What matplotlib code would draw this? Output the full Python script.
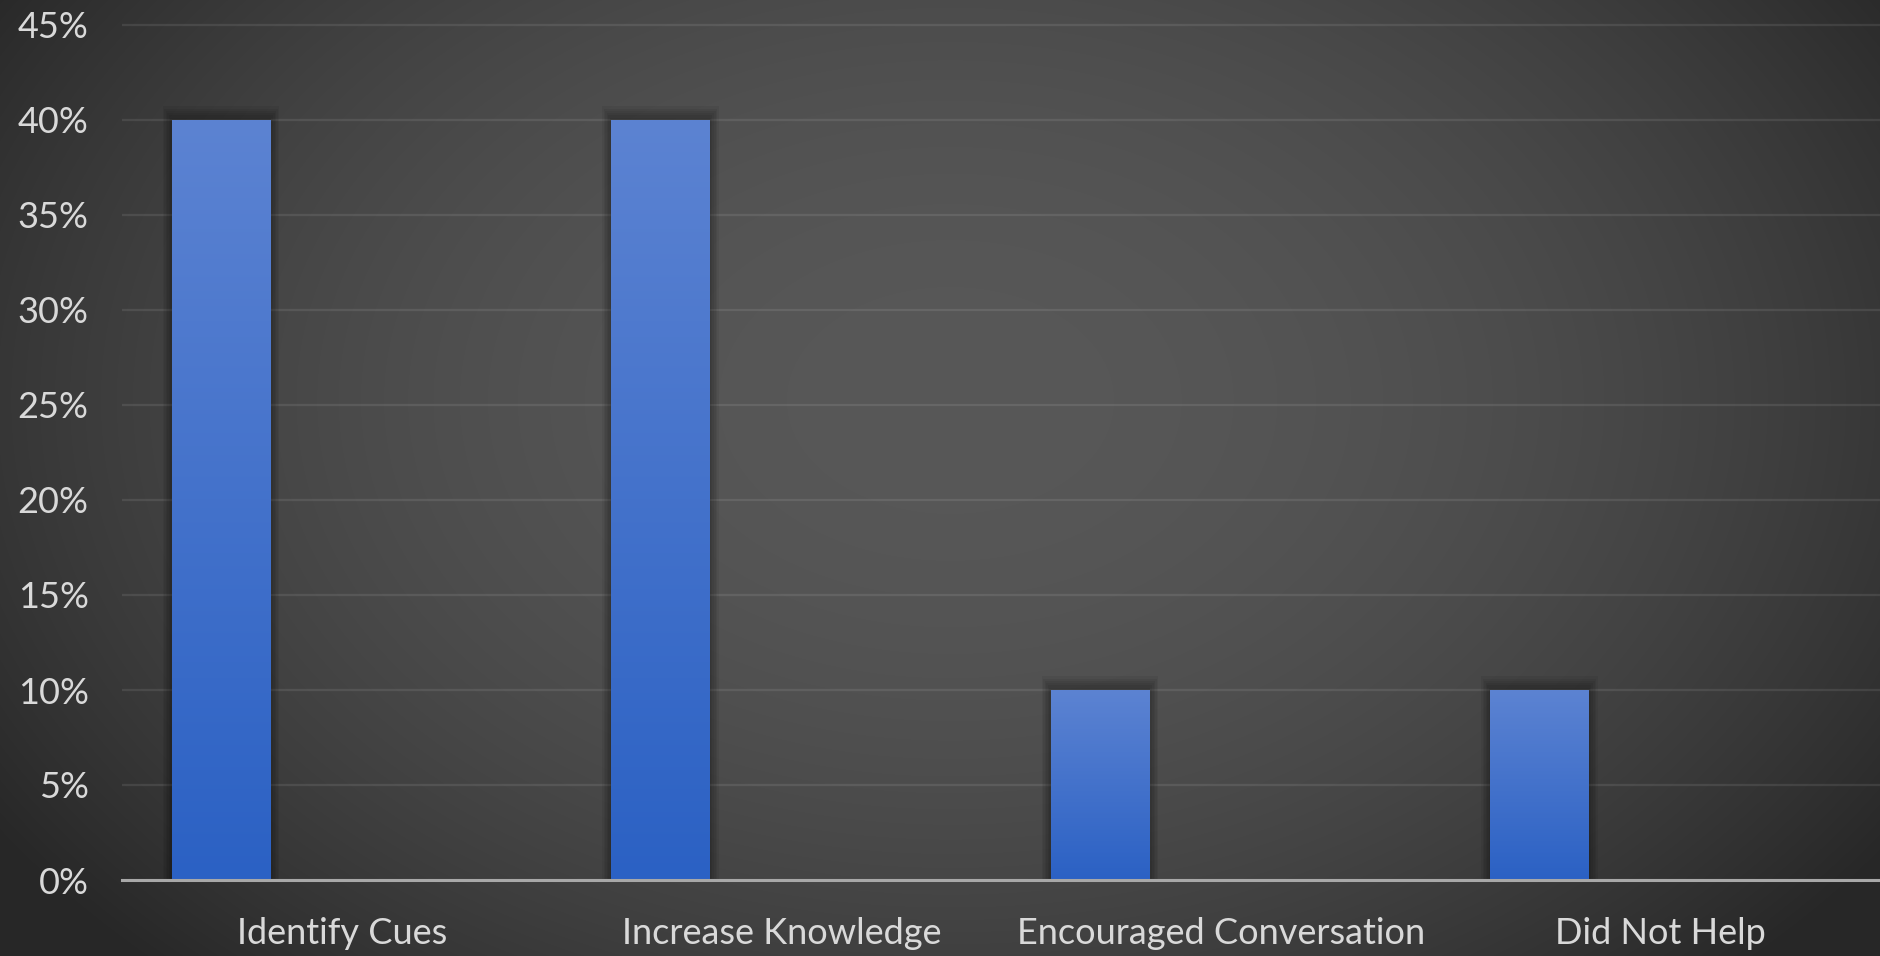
import numpy as np
import matplotlib
matplotlib.use("Agg")
import matplotlib.pyplot as plt
from matplotlib.patches import Rectangle
from matplotlib.ticker import MultipleLocator, PercentFormatter

categories = ["Identify Cues", "Increase Knowledge", "Encouraged Conversation", "Did Not Help"]
shares = [0.40, 0.40, 0.10, 0.10]

plt.rcParams["font.family"] = ["Lato", "DejaVu Sans"]

W, H = 1880, 956
fig = plt.figure(figsize=(W / 100, H / 100), dpi=100)

# Dark radial backdrop, lighter toward the middle
bg = fig.add_axes([0, 0, 1, 1], zorder=-10)
yy, xx = np.mgrid[0:H, 0:W]
r2 = ((xx - 950) / (W * 0.55)) ** 2 + ((yy - 400) / (H * 0.75)) ** 2
lum = np.clip(88 - 40 * r2, 40, 255) / 255.0
bg.imshow(np.dstack([lum, lum, lum]), extent=[0, 1, 0, 1], aspect="auto", origin="upper")
bg.axis("off")

ax = fig.add_axes([122 / W, 1 - 880 / H, 1 - 122 / W, 874 / H])
ax.set_facecolor("none")
ax.set_ylim(0, 0.46)
ax.set_xlim(-0.5, len(categories) - 0.5)

x = np.arange(len(categories))
offset, width = -0.275, 0.223
bars = ax.bar(x + offset, shares, width=width, color="none", zorder=3)

# Soft shadow around each column
for b in bars:
    x0, w, h = b.get_x(), b.get_width(), b.get_height()
    for k in range(1, 7):
        dx = 0.0035 * k
        ax.add_patch(Rectangle((x0 - dx, 0), w + 2 * dx, h + 0.0012 * k,
                               facecolor="black", edgecolor="none", alpha=0.06, zorder=2))

# Vertical blue gradient fill clipped to each column
top_c = np.array([0x5c, 0x83, 0xd2]) / 255.0
bot_c = np.array([0x2b, 0x61, 0xc4]) / 255.0
t = np.linspace(0, 1, 256)[:, None]
grad = (top_c[None, :] * (1 - t) + bot_c[None, :] * t)[:, None, :]
for b in bars:
    x0, w, h = b.get_x(), b.get_width(), b.get_height()
    im = ax.imshow(grad, extent=[x0, x0 + w, 0, h], aspect="auto", origin="upper", zorder=4)
    im.set_clip_path(b)

ax.yaxis.set_major_locator(MultipleLocator(0.05))
ax.yaxis.set_major_formatter(PercentFormatter(1.0, decimals=0))
ax.set_yticks(np.arange(0, 0.451, 0.05))
ax.grid(axis="y", color="white", alpha=0.09, linewidth=1.6, zorder=1)
ax.set_axisbelow(True)

ax.set_xticks(x)
ax.set_xticklabels(categories)
ax.tick_params(axis="both", length=0, labelsize=26, colors="#d9d9d9")
ax.tick_params(axis="y", pad=24)
ax.tick_params(axis="x", pad=27)

for s in ["top", "right", "left"]:
    ax.spines[s].set_visible(False)
ax.spines["bottom"].set_color("#a8a8a8")
ax.spines["bottom"].set_linewidth(2.2)
ax.spines["bottom"].set_zorder(5)

fig.savefig("out.png", dpi=100)
